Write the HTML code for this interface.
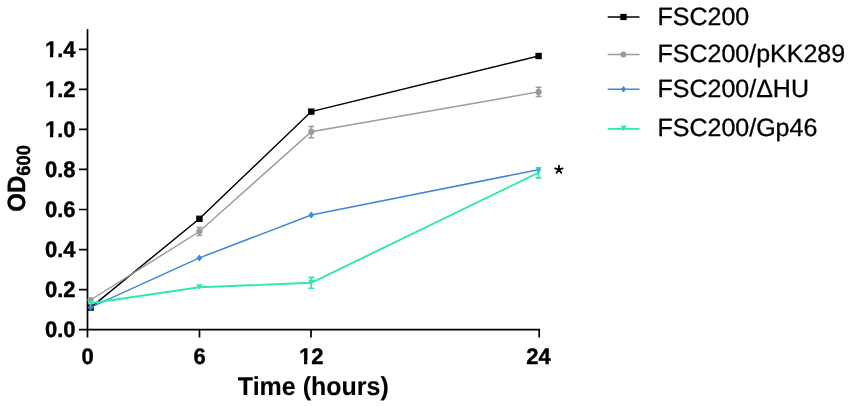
<!DOCTYPE html>
<html><head><meta charset="utf-8">
<style>
html,body{margin:0;padding:0;background:#fff;width:851px;height:406px;overflow:hidden}
svg{display:block;will-change:transform}
text{font-family:"Liberation Sans",sans-serif;fill:#000;text-rendering:geometricPrecision}
.b{font-weight:bold;stroke:#000;stroke-width:0.4px}
</style></head><body>
<svg width="851" height="406" viewBox="0 0 851 406">
<g stroke="#000" stroke-width="1.7" fill="none">
<path d="M87.5 29 V337.6"/>
<path d="M87.5 329.7 H539.2 V337.6"/>
<path d="M79 329.70 H87.5 M79 289.64 H87.5 M79 249.58 H87.5 M79 209.52 H87.5 M79 169.46 H87.5 M79 129.40 H87.5 M79 89.34 H87.5 M79 49.28 H87.5"/>
<path d="M199.5 329.7 V337.6 M311 329.7 V337.6"/>
</g>
<g>
<text class="b" font-size="22" x="75.5" y="337" text-anchor="end" transform="matrix(1 0 0 1.02 0 -6.740)">0.0</text>
<text class="b" font-size="22" x="75.5" y="297" text-anchor="end" transform="matrix(1 0 0 1.02 0 -5.940)">0.2</text>
<text class="b" font-size="22" x="75.5" y="257" text-anchor="end" transform="matrix(1 0 0 1.02 0 -5.140)">0.4</text>
<text class="b" font-size="22" x="75.5" y="217" text-anchor="end" transform="matrix(1 0 0 1.02 0 -4.340)">0.6</text>
<text class="b" font-size="22" x="75.5" y="177" text-anchor="end" transform="matrix(1 0 0 1.02 0 -3.540)">0.8</text>
<text class="b" font-size="22" x="75.5" y="137" text-anchor="end" transform="matrix(1 0 0 1.02 0 -2.740)">1.0</text>
<text class="b" font-size="22" x="75.5" y="97" text-anchor="end" transform="matrix(1 0 0 1.02 0 -1.940)">1.2</text>
<text class="b" font-size="22" x="75.5" y="57" text-anchor="end" transform="matrix(1 0 0 1.02 0 -1.140)">1.4</text>
</g>
<text class="b" font-size="22" x="87.5" y="364" text-anchor="middle" transform="matrix(1 0 0 1.02 0 -7.280)">0</text>
<text class="b" font-size="22" x="199.5" y="364" text-anchor="middle" transform="matrix(1 0 0 1.02 0 -7.280)">6</text>
<text class="b" font-size="22" x="311.2" y="364" text-anchor="middle" transform="matrix(1 0 0 1.02 0 -7.280)">12</text>
<text class="b" font-size="22" x="538.6" y="364" text-anchor="middle" transform="matrix(1 0 0 1.02 0 -7.280)">24</text>
<rect x="45.35" y="133.58" width="4.58" height="5.42" fill="#fff"/>
<rect x="53.21" y="133.58" width="4.06" height="5.42" fill="#fff"/>
<rect x="45.35" y="93.58" width="4.58" height="5.42" fill="#fff"/>
<rect x="53.21" y="93.58" width="4.06" height="5.42" fill="#fff"/>
<rect x="45.35" y="53.58" width="4.58" height="5.42" fill="#fff"/>
<rect x="53.21" y="53.58" width="4.06" height="5.42" fill="#fff"/>
<rect x="299.39" y="360.58" width="4.58" height="5.42" fill="#fff"/>
<rect x="307.26" y="360.58" width="4.06" height="5.42" fill="#fff"/>
<text class="b" font-size="25" x="313.3" y="395" text-anchor="middle" transform="matrix(1 0 0 1.03 0 -11.850)" style="stroke-width:0.1px">Time (hours)</text>
<g transform="translate(24.7,178.4) rotate(-90)">
<text class="b" font-size="24" x="0" y="0" text-anchor="middle" transform="matrix(1 0 0 1.04 0 -0.000)">OD<tspan font-size="18.3" dy="5.4">600</tspan></text>
</g>
<polyline points="90.6,307.6 199.4,218.8 311.3,111.6 538.6,56.0" fill="none" stroke="#000" stroke-width="1.45"/>
<rect x="87.40" y="304.40" width="6.4" height="6.4" fill="#000"/>
<rect x="196.20" y="215.60" width="6.4" height="6.4" fill="#000"/>
<rect x="308.10" y="108.40" width="6.4" height="6.4" fill="#000"/>
<rect x="535.40" y="52.80" width="6.4" height="6.4" fill="#000"/>
<polyline points="90.6,300.0 199.4,231.5 311.3,131.7 538.6,91.9" fill="none" stroke="#9b9b9b" stroke-width="1.45"/>
<g stroke="#9b9b9b" stroke-width="1.5" fill="none">
<path d="M199.4 227.5 V235.6 M196.50 227.5 H202.30 M196.50 235.6 H202.30"/>
<path d="M311.3 126.5 V137.8 M308.40 126.5 H314.20 M308.40 137.8 H314.20"/>
<path d="M538.6 87.3 V96.5 M535.70 87.3 H541.50 M535.70 96.5 H541.50"/>
</g>
<circle cx="90.6" cy="300.0" r="3.1" fill="#9b9b9b"/>
<circle cx="199.4" cy="231.5" r="3.1" fill="#9b9b9b"/>
<circle cx="311.3" cy="131.7" r="3.1" fill="#9b9b9b"/>
<circle cx="538.6" cy="91.9" r="3.1" fill="#9b9b9b"/>
<polyline points="90.6,307.4 199.4,257.9 311.3,215.0 538.6,169.7" fill="none" stroke="#3f88de" stroke-width="1.55"/>
<path d="M90.6 303.90 L93.50 307.4 L90.6 310.90 L87.70 307.4Z" fill="#3f88de"/>
<path d="M199.4 254.40 L202.30 257.9 L199.4 261.40 L196.50 257.9Z" fill="#3f88de"/>
<path d="M311.3 211.50 L314.20 215.0 L311.3 218.50 L308.40 215.0Z" fill="#3f88de"/>
<polyline points="90.6,303.3 199.4,287.3 311.3,282.8 538.6,172.7" fill="none" stroke="#30e8aa" stroke-width="1.9"/>
<g stroke="#30e8aa" stroke-width="1.6" fill="none">
<path d="M311.3 277.4 V288.2 M308.30 277.4 H314.30 M308.30 288.2 H314.30"/>
<path d="M538.6 170 V177.9 M535.70 177.9 H541.50"/>
</g>
<path d="M87.50 300.30 H93.70 L90.6 305.70Z" fill="#30e8aa"/>
<path d="M196.30 284.30 H202.50 L199.4 289.70Z" fill="#30e8aa"/>
<path d="M308.20 279.80 H314.40 L311.3 285.20Z" fill="#30e8aa"/>
<path d="M535.80 167.1 H541.40 L538.6 174.2Z" fill="#30e8aa"/>
<path d="M538.6 167.0 L541.50 169.9 L538.6 172.8 L535.70 169.9Z" fill="#3f88de" fill-opacity="0.5"/>
<path d="M558.9 169.6 L558.90 165.70 M558.9 169.6 L562.61 168.39 M558.9 169.6 L561.19 172.76 M558.9 169.6 L556.61 172.76 M558.9 169.6 L555.19 168.39 " stroke="#000" stroke-width="1.9" stroke-linecap="round" fill="none"/>
<path d="M607.7 17.0 H639.5" stroke="#000" stroke-width="1.6"/>
<rect x="620.3" y="13.90" width="6.4" height="6.2" fill="#000"/>
<path d="M607.7 54.4 H639.5" stroke="#9b9b9b" stroke-width="1.5"/>
<circle cx="623.4" cy="54.4" r="3" fill="#9b9b9b"/>
<path d="M607.7 89.3 H639.5" stroke="#3f88de" stroke-width="1.6"/>
<path d="M623.5 86.00 L626.1 89.3 L623.5 92.60 L620.9 89.3Z" fill="#3f88de"/>
<path d="M607.7 128.9 H639.5" stroke="#30e8aa" stroke-width="1.8"/>
<path d="M620.5 125.70 H626.7 L623.6 131.30Z" fill="#30e8aa"/>
<text font-size="25" x="657.5" y="24.6" text-anchor="start" transform="matrix(1 0 0 1.0 0 -0.000)" stroke="#000" stroke-width="0.3">FSC200</text>
<text font-size="25" x="657.5" y="61.9" text-anchor="start" transform="matrix(1 0 0 1.0 0 -0.000)" stroke="#000" stroke-width="0.3">FSC200/pKK289</text>
<text font-size="25" x="657.5" y="96.9" text-anchor="start" transform="matrix(1 0 0 1.0 0 -0.000)" stroke="#000" stroke-width="0.3">FSC200/ΔHU</text>
<text font-size="25" x="657.5" y="136.4" text-anchor="start" transform="matrix(1 0 0 1.0 0 -0.000)" stroke="#000" stroke-width="0.3">FSC200/Gp46</text>
</svg>
</body></html>
